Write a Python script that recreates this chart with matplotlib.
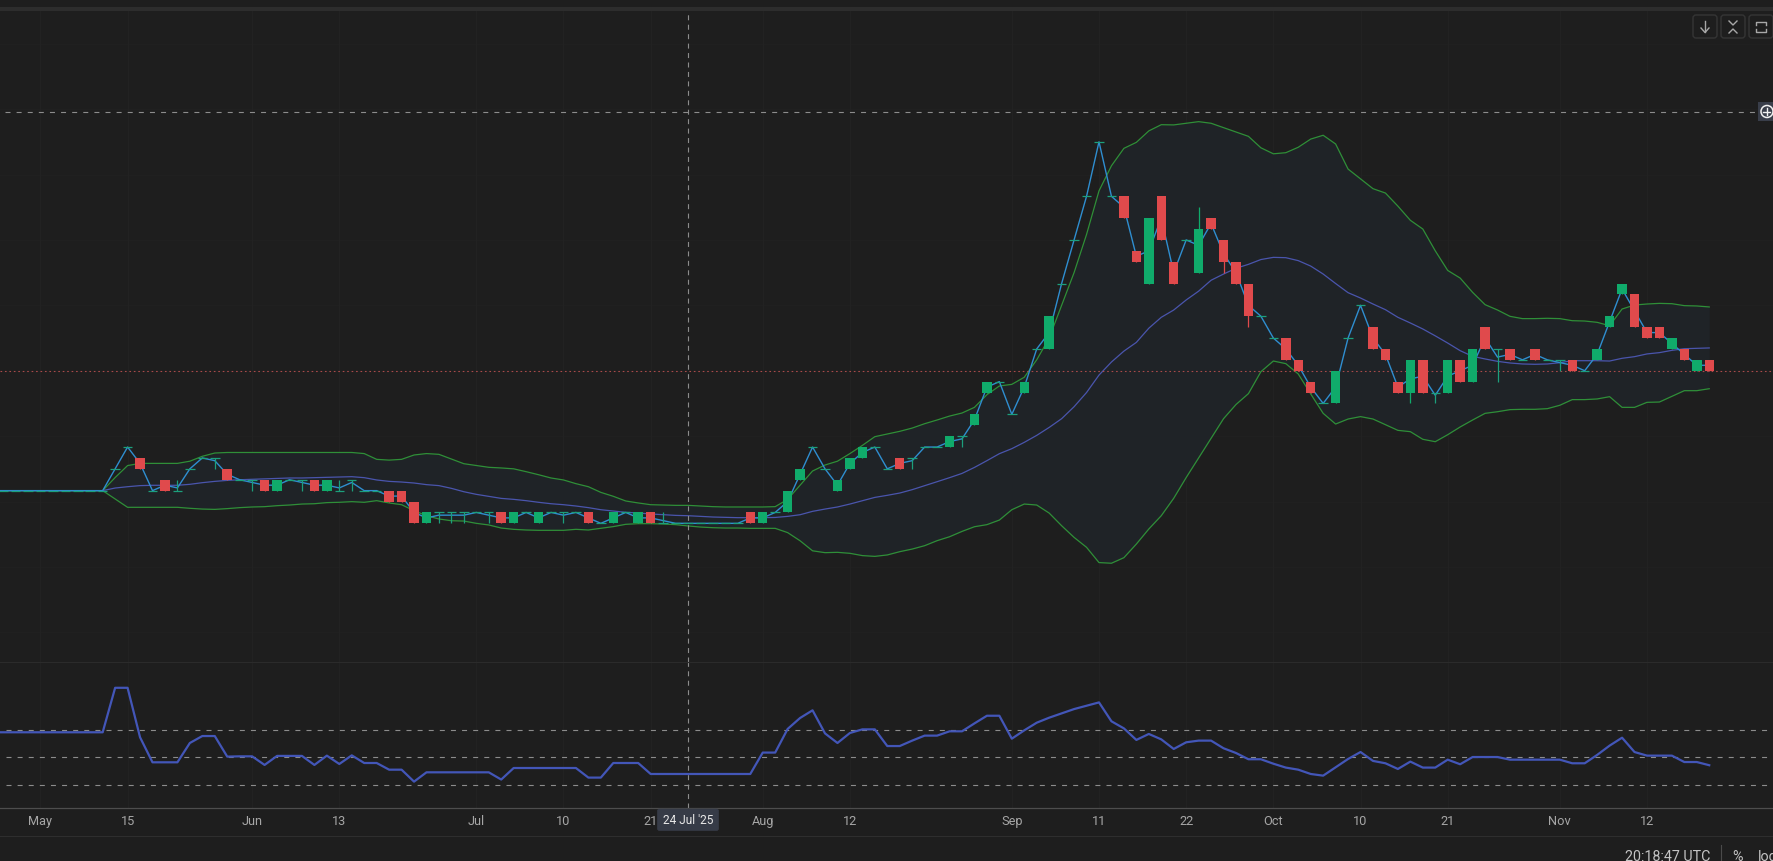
import numpy as np
import matplotlib
matplotlib.use("Agg")
import matplotlib.pyplot as plt
from matplotlib.patches import FancyBboxPatch, Rectangle, Circle

plt.rcParams['font.family'] = ['Roboto', 'DejaVu Sans']

BG = '#1e1e1e'
BAND_FILL = '#1f2327'
GREEN = '#10ab6b'
RED = '#e04a4c'
DOJI = '#1c9f7c'
CLOSE_LINE = '#2f8ed0'
BAND_LINE = '#2f8f38'
MID_LINE = '#4a55ad'
RSI_LINE = '#4356b8'
GRID = '#222222'
DASH = '#8c8c8c'

# prices are in tick units, one value per bar
open_vals = [3,3,3,3,3,3,3,3,3,3,
	5,7,6,3,4,3,5,6,6,5,
	4,4,4,3,4,4,4,3,3,4,
	3,3,3,3,2,0,1,1,1,1,
	1,1,0,1,0,1,1,1,1,0,
	0,1,0,1,0,0,0,0,0,0,
	0,1,0,1,1,4,7,5,3,5,
	6,7,5,6,6,7,7,7,8,9,
	12,13,10,12,16,16,22,26,30,35,
	30,30,25,22,30,24,26,23,28,26,
	24,22,19,17,17,15,13,11,11,17,
	20,18,16,13,12,15,12,12,15,13,
	18,16,16,15,16,15,15,15,14,15,
	18,21,21,18,18,16,16,14,15]
close_vals = [3,3,3,3,3,3,3,3,3,3,
	5,7,5,3,3,3,5,6,6,4,
	4,4,3,4,4,4,3,4,3,4,
	3,3,2,2,0,1,1,1,1,1,
	1,0,1,1,1,1,1,1,0,0,
	1,1,1,0,0,0,0,0,0,0,
	0,0,1,1,3,5,7,5,4,6,
	7,7,5,5,6,7,7,8,8,10,
	13,13,10,13,16,19,22,26,30,35,
	30,28,24,28,26,22,26,27,27,24,
	22,19,19,17,15,14,12,11,14,17,
	20,16,15,12,15,12,12,15,13,16,
	16,16,15,15,15,15,15,14,14,16,
	19,22,18,17,17,17,15,15,14]
high_vals = [3,3,3,3,3,3,3,3,3,3,
	5,7,6,3,4,4,5,6,6,5,
	4,4,4,4,4,4,4,4,4,4,
	3,3,3,3,2,1,1,1,1,1,
	1,1,1,1,1,1,1,1,1,0,
	1,1,1,1,1,0,0,0,0,0,
	0,1,1,1,3,5,7,5,4,6,
	7,7,5,6,6,7,7,8,8,10,
	13,13,10,13,16,19,22,26,30,35,
	30,30,25,28,30,24,26,29,28,26,
	24,22,19,17,17,15,13,11,14,17,
	20,18,16,13,15,15,12,15,15,16,
	18,16,16,15,16,15,15,15,14,16,
	19,22,21,18,18,17,16,15,15]
low_vals = [3,3,3,3,3,3,3,3,3,3,
	5,7,5,3,3,3,5,6,5,4,
	4,3,3,3,4,3,3,3,3,3,
	3,3,2,2,0,0,0,0,0,1,
	0,0,0,1,0,1,0,1,0,0,
	0,1,0,0,0,0,0,0,0,0,
	0,0,0,1,1,4,7,5,3,5,
	6,7,5,5,5,7,7,7,7,9,
	12,13,10,12,16,16,22,26,30,35,
	30,28,24,22,26,22,26,23,27,23,
	22,18,19,17,15,14,12,11,11,17,
	20,16,15,12,11,12,11,12,13,13,
	16,13,15,15,15,15,14,14,14,15,
	18,21,18,17,17,16,15,14,14]
typical_vals = [3,3,3,3,3,3,3,3,3,3,
	5,7,5.5,3,3.5,3.25,5,6,5.75,4.5,
	4,3.75,3.5,3.5,4,3.75,3.5,3.5,3.25,3.75,
	3,3,2.5,2.5,1,.5,.75,.75,.75,1,
	.75,.5,.5,1,.5,1,.75,1,.5,0,
	.5,1,.5,.5,.25,0,0,0,0,0,
	0,.5,.5,1,2,4.5,7,5,3.5,5.5,
	6.5,7,5,5.5,5.75,7,7,7.5,7.75,9.5,
	12.5,13,10,12.5,16,17.5,22,26,30,35,
	30,29,24.5,25,28,23,26,25.5,27.5,24.75,
	23,20,19,17,16,14.5,12.5,11,12.5,17,
	20,17,15.5,12.5,13.25,13.5,11.75,13.5,14,14.5,
	17,15.25,15.5,15,15.5,15,14.75,14.5,14,15.5,
	18.5,21.5,19.5,17.5,17.5,16.5,15.5,14.5,14.5]
band_upper = [3,3,3,3,3,3,3,3,3,3,
	4.2,5.3,5.5,5.5,5.5,5.5,5.7,6.15,6.45,6.5,
	6.5,6.5,6.5,6.5,6.5,6.5,6.5,6.5,6.5,6.5,
	6.4,5.87,5.8,5.87,6.27,6.4,6.33,5.9,5.47,5.3,
	5.14,5.08,5.0,4.74,4.46,4.16,3.98,3.64,3.36,2.84,
	2.48,2.05,1.87,1.71,1.68,1.65,1.65,1.59,1.53,1.5,
	1.5,1.5,1.5,1.53,2.2,3.5,4.8,5.35,5.7,6.4,
	7.15,7.95,8.19,8.44,8.74,9.14,9.48,9.84,10.12,10.64,
	11.8,12.6,12.75,13.4,15,17,20,23,26.5,30.5,
	32.8,34.4,34.95,36,36.57,36.55,36.7,36.85,36.7,36.3,
	35.9,35.5,34.45,33.9,34,34.5,35.25,35.6,34.8,32.5,
	31.6,30.7,30.3,29.1,27.8,27,25,23.2,22.5,21.19,
	20.06,19.57,18.99,18.78,18.78,18.81,18.78,18.59,18.56,18.44,
	18.13,19.66,20.03,20.12,20.18,20.15,19.97,19.94,19.85]
band_mid = [3,3,3,3,3,3,3,3,3,3,
	3.24,3.36,3.46,3.49,3.49,3.49,3.58,3.73,3.85,3.94,
	4,4.04,4.07,4.13,4.16,4.16,4.19,4.22,4.25,4.28,
	4.19,3.98,3.85,3.79,3.7,3.55,3.46,3.21,2.9,2.66,
	2.48,2.29,2.2,2.08,1.93,1.8,1.71,1.59,1.44,1.25,
	1.13,1.01,.95,.86,.8,.73,.7,.64,.58,.55,
	.52,.52,.52,.54,.64,.79,1.1,1.31,1.5,1.77,
	2.08,2.38,2.57,2.78,3.09,3.45,3.82,4.19,4.58,5.13,
	5.75,6.39,6.85,7.43,8.07,8.8,9.6,10.7,12,13.6,
	14.8,15.8,16.6,17.9,18.9,19.57,20.49,21.3,22.3,22.87,
	23.4,23.76,24.2,24.4,24.37,24.1,23.6,22.87,22,21.16,
	20.67,20.12,19.6,18.9,18.38,17.83,17.2,16.54,15.84,15.32,
	15.08,14.86,14.71,14.62,14.59,14.62,14.74,14.92,14.92,14.92,
	14.89,15.14,15.29,15.54,15.66,15.87,16.02,16.05,16.09]
band_lower = [3,3,3,3,3,3,3,3,3,3,
	2.23,1.47,1.47,1.47,1.47,1.47,1.38,1.31,1.28,1.35,
	1.44,1.5,1.53,1.62,1.68,1.77,1.8,1.9,1.93,1.99,
	1.93,2.08,1.87,1.71,1.16,.7,.4,.24,.21,0,
	-.15,-.43,-.55,-.61,-.64,-.64,-.64,-.55,-.61,-.46,
	-.3,-.09,-.03,-.03,-.06,-.12,-.24,-.34,-.4,-.43,
	-.43,-.46,-.46,-.46,-.85,-1.6,-2.52,-2.69,-2.66,-2.75,
	-2.96,-3.03,-2.9,-2.6,-2.36,-2.05,-1.59,-1.23,-.74,-.31,
	-.12,.3,1.25,1.77,1.68,.94,-.22,-1.29,-2.2,-3.6,
	-3.66,-3.15,-1.9,-.52,.7,2.3,4.2,6,7.8,9.6,
	10.9,11.9,13.91,14.89,14.65,13.7,11.87,10.09,9.11,9.57,
	9.79,9.57,9.05,8.53,8.41,7.71,7.49,8.13,8.84,9.48,
	10.09,10.24,10.43,10.46,10.46,10.52,10.83,11.35,11.35,11.41,
	11.62,10.64,10.64,11.1,11.13,11.65,12.17,12.17,12.35]
rsi_vals = [68,68,68,68,68,68,68,68,68,68,
	100,100,64.4,46.4,46.4,46.4,60.3,65.3,65.3,50.5,
	50.7,50.7,44.5,51,51,51,44.5,51.2,45.2,51.4,
	45.9,45.9,41.1,41.1,32.5,39.2,39.2,39.2,39.2,39.2,
	39.2,34,42.3,42.3,42.3,42.3,42.3,42.3,35.4,35.4,
	45.9,45.9,45.9,38,38,38,38,38,38,38,
	38,38,53.4,53.4,70.4,78.3,83.8,67.2,60.3,67.5,
	70.1,70.1,58.1,58.1,62,65.6,65.6,68.7,68.7,74.4,
	79.9,79.9,63.4,69.4,74.9,78.5,81.6,84.7,87.1,89.5,
	75.9,70.8,62.5,66.8,62.9,56,60.8,62,62,56.5,
	53.1,48.6,48.6,45.4,42.6,41.1,38,36.8,42.8,48.8,
	53.8,47.4,45.7,41.6,46.9,42.6,42.6,48.3,45,50.2,
	50.2,50.2,48.3,48.3,48.3,48.3,48.3,45.7,45.7,51.7,
	58.4,64.1,53.8,51.2,51.2,51.2,46.6,46.6,44.3]

tick_bars = [4, 11, 21, 28, 39, 46, 53, 62, 69, 82, 89, 96, 103, 110, 117, 126, 133]
tick_labels = ['May', '15', 'Jun', '13', 'Jul', '10', '21', 'Aug', '12', 'Sep', '11', '22', 'Oct', '10', '21', 'Nov', '12']
rsi_levels = [70, 50, 30]
last_price = 14
marked_price = 37.77
cursor_bar = 56
cursor_label = "24 Jul '25"
clock_label = '20:18:47 UTC'

W, H = 1774, 862
X_LIM = (0.755, 143.2)


def pane(fig, top, bottom):
	ax = fig.add_axes([0, 1 - bottom / H, 1, (bottom - top) / H])
	ax.set_facecolor(BG)
	ax.set_xlim(*X_LIM)
	for s in ax.spines.values():
		s.set_visible(False)
	ax.set_yticks([])
	ax.tick_params(length=0)
	for t in tick_bars:
		ax.axvline(t, color=GRID, lw=0.8, zorder=0)
	return ax


def draw_price(ax):
	ax.set_ylim(-12.72, 47.0)
	ax.set_xticks([])
	for lvl in [-10, -4, 2, 8, 14, 20, 26, 32, 38, 44]:
		ax.axhline(lvl, color=GRID, lw=0.5, zorder=0)

	bars = np.arange(len(close_vals))
	ax.fill_between(bars, band_lower, band_upper, color=BAND_FILL, lw=0, zorder=1)
	ax.plot(bars, band_upper, color=BAND_LINE, lw=0.9, zorder=2)
	ax.plot(bars, band_lower, color=BAND_LINE, lw=0.9, zorder=2)
	ax.plot(bars, band_mid, color=MID_LINE, lw=0.9, zorder=2)
	ax.plot(bars, typical_vals, color=CLOSE_LINE, lw=1.0, zorder=3)

	ax.axhline(last_price, color='#a84a4a', lw=0.8, ls=(0, (1.5, 2.5)), zorder=2)
	ax.axhline(marked_price, color=DASH, lw=0.8, ls=(0, (4.5, 5.5)), xmin=0.003, zorder=2)

	for i in bars:
		o, c, h, l = open_vals[i], close_vals[i], high_vals[i], low_vals[i]
		if o == c:
			color = DOJI
			ax.hlines(c, i - 0.38, i + 0.38, color=color, lw=0.9, zorder=4)
		else:
			color = GREEN if c > o else RED
			ax.bar(i, abs(c - o), bottom=min(o, c), width=0.76, color=color, lw=0, zorder=5)
		if h > l:
			ax.vlines(i, l, h, color=color, lw=0.9, zorder=4)

	ax.axvline(cursor_bar, color=DASH, lw=0.8, ls=(0, (4.5, 4)), zorder=6)


def draw_rsi(ax):
	ax.set_ylim(13.53, 118.56)
	for lvl in rsi_levels:
		ax.axhline(lvl, color=DASH, lw=0.8, ls=(0, (4.5, 5.5)), xmin=0.0035, zorder=1)
	ax.plot(np.arange(len(rsi_vals)), rsi_vals, color=RSI_LINE, lw=1.6, zorder=3)
	ax.axvline(cursor_bar, color=DASH, lw=0.8, ls=(0, (4.5, 4)), zorder=2)
	ax.set_xticks(tick_bars)
	ax.set_xticklabels(tick_labels, color='#a6a6a6', fontsize=9.2)
	ax.tick_params(axis='x', pad=4.5)


def draw_furniture(fig):
	# everything outside the panes, in figure pixels
	ax = fig.add_axes([0, 0, 1, 1], zorder=10)
	ax.set_xlim(0, W)
	ax.set_ylim(H, 0)
	ax.axis('off')

	ax.add_patch(Rectangle((0, 8), W, 4, color='#2d2d2d', lw=0))
	ax.plot([0, W], [663, 663], color='#2b2b2b', lw=0.8)
	ax.plot([0, W], [809.5, 809.5], color='#4d4d4d', lw=0.9)
	ax.plot([0, W], [837.5, 837.5], color='#2e2e2e', lw=0.8)
	ax.plot([1721, 1721], [846, H], color='#4a4a4a', lw=0.8)

	# crosshair date tag
	ax.add_patch(FancyBboxPatch((657.5, 810), 61, 21.5, boxstyle='round,pad=0,rounding_size=2',
		mutation_aspect=1, fc='#363b47', ec='#363b47', lw=0.5, zorder=3))
	ax.text(688, 821, cursor_label, color='#e8e8e8', fontsize=8.6, ha='center', va='center', zorder=4)

	ax.text(1710, 857, clock_label, color='#c4c4c4', fontsize=10.3, ha='right', va='center')
	ax.text(1738, 857, '%', color='#c4c4c4', fontsize=10.3, ha='center', va='center')
	ax.text(1758, 857, 'log', color='#c4c4c4', fontsize=10.3, ha='left', va='center', clip_on=True)

	# top right buttons
	for left in [1693, 1721, 1749]:
		ax.add_patch(FancyBboxPatch((left, 16), 24, 23, boxstyle='round,pad=0,rounding_size=3',
			fc='none', ec='#353535', lw=1))
	icon = '#a8a8a8'
	ax.plot([1705, 1705], [22, 33], color=icon, lw=1)
	ax.plot([1701, 1705, 1709], [29, 33.5, 29], color=icon, lw=1)
	ax.plot([1729, 1733, 1737], [22, 26, 22], color=icon, lw=1)
	ax.plot([1729, 1733, 1737], [34, 30, 34], color=icon, lw=1)
	ax.plot([1756, 1756, 1766, 1766], [26, 23, 23, 26], color=icon, lw=1)
	ax.plot([1756, 1756, 1766, 1766], [30, 33, 33, 30], color=icon, lw=1)

	# plus button on the horizontal cursor line
	ax.add_patch(Rectangle((1758, 103), 16, 19, color='#393e4a', lw=0))
	ax.add_patch(Circle((1767, 112.5), 6, fc='none', ec='#f0f0f0', lw=1.1))
	ax.plot([1763.5, 1770.5], [112.5, 112.5], color='#f0f0f0', lw=1)
	ax.plot([1767, 1767], [109, 116], color='#f0f0f0', lw=1)


def main():
	fig = plt.figure(figsize=(W / 100, H / 100), dpi=100, facecolor=BG)

	price_ax = pane(fig, 12, 663)
	rsi_ax = pane(fig, 663, 809)
	draw_price(price_ax)
	draw_rsi(rsi_ax)
	draw_furniture(fig)

	fig.savefig('out.png', dpi=100, facecolor=BG)


if __name__ == "__main__":
	main()
